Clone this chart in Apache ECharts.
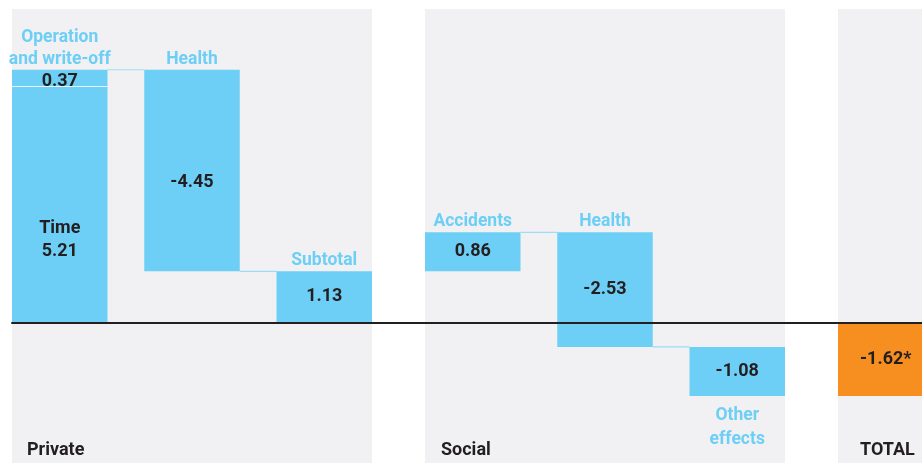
<!DOCTYPE html>
<html><head><meta charset="utf-8">
<script src="https://cdn.jsdelivr.net/npm/echarts@6/dist/echarts.min.js"></script>
<style>html,body{margin:0;padding:0;background:#fff}#c{width:922px;height:463px}</style>
</head><body><div id="c"></div>
<script>
// ---- data ----
const groupNames = ['Private', 'Social', 'TOTAL'];
const privateBaseLabel = 'Time';
const privateBaseValue = 5.21;
const privateCategories = ['Operation\nand write-off', 'Health', 'Subtotal'];
const privateValues = [0.37, -4.45, 1.13];
const privateKinds = ['delta', 'delta', 'total'];
const socialCategories = ['Accidents', 'Health', 'Other\neffects'];
const socialValues = [0.86, -2.53, -1.08];
const socialKinds = ['delta', 'delta', 'delta'];
const totalCategories = ['TOTAL'];
const totalValues = [-1.62];
const totalNote = '*';

// ---- style / layout ----
const BLUE = '#6dcff6', ORANGE = '#f68e20', PANEL = '#f1f1f3', DARK = '#231f20';
const BW = 95.5;
const FONT = 'bold 18px Roboto';
const CAT_FONT = 'bold 17.5px Roboto';
const Y_MIN = -3, Y_MAX = 7, PX = 45.3, ZERO_Y = 322.5;
const G_TOP = ZERO_Y - Y_MAX * PX, G_H = (Y_MAX - Y_MIN) * PX;
const valueShift = { 'Time': 36, 'Health-0': 12, 'Operation\nand write-off-0': 3 };

function fmt(v) { return v.toFixed(2); }

// build bars from data
function build(cats, vals, kinds, start, opts) {
  const data = [], meta = [];
  let run = start;
  cats.forEach((c, i) => {
    let low, high;
    if (kinds[i] === 'total') { low = 0; high = vals[i]; }
    else { low = run; high = run + vals[i]; }
    run = high;
    data.push([i, low, high]);
    meta.push({
      valueText: fmt(vals[i]) + (opts.note || ''),
      cat: opts.hideCat ? null : c,
      catPos: (opts.bottomLast && i === cats.length - 1) ? 'bottom' : 'top',
      color: opts.color || BLUE,
      next: i < cats.length - 1,
      level: high,
      dy: valueShift[c + '-' + opts.gid] || 0
    });
  });
  return { data, meta, end: run };
}

// private group with stacked base
const privData = [[0, 0, privateBaseValue]];
const privMeta = [{ valueText: privateBaseLabel + '\n' + fmt(privateBaseValue), cat: null, color: BLUE, next: false, dy: valueShift[privateBaseLabel] }];
const pb = build(privateCategories, privateValues, privateKinds, privateBaseValue, { gid: 0 });
pb.meta[0].sep = true;
privData.push(...pb.data); privMeta.push(...pb.meta);
const sb = build(socialCategories, socialValues, socialKinds, pb.end, { gid: 1, bottomLast: true });
const tb = build(totalCategories, totalValues, ['total'], 0, { gid: 2, color: ORANGE, hideCat: true, note: totalNote });

function makeRender(meta) {
  return function (params, api) {
    const m = meta[params.dataIndex];
    const idx = api.value(0), a = api.value(1), b = api.value(2);
    const pT = api.coord([idx, Math.max(a, b)]);
    const pB = api.coord([idx, Math.min(a, b)]);
    const cx = pT[0], top = pT[1], bot = pB[1];
    const children = [{
      type: 'rect', shape: { x: cx - BW / 2, y: top, width: BW, height: bot - top },
      style: { fill: m.color }
    }];
    if (m.sep) children.push({ type: 'line', shape: { x1: cx - BW / 2, y1: bot, x2: cx + BW / 2, y2: bot }, style: { stroke: '#ffffff', lineWidth: 1.2, opacity: 0.75 } });
    children.push({
      type: 'text', x: cx, y: (top + bot) / 2 + (m.dy || 0),
      style: { text: m.valueText, font: FONT, fill: DARK, align: 'center', verticalAlign: 'middle', lineHeight: 23 }
    });
    if (m.cat) {
      const isTop = m.catPos === 'top';
      children.push({
        type: 'text', x: cx, y: isTop ? top + 0.5 : bot + 8,
        style: { text: m.cat, font: CAT_FONT, fill: BLUE, align: 'center', verticalAlign: isTop ? 'bottom' : 'top', lineHeight: isTop ? 22 : 24 }
      });
    }
    if (m.next) {
      const n = api.coord([idx + 1, m.level]);
      children.push({ type: 'line', shape: { x1: cx + BW / 2, y1: n[1], x2: n[0] - BW / 2, y2: n[1] }, style: { stroke: '#9edbf5', lineWidth: 1.2 } });
    }
    return { type: 'group', children };
  };
}

const panels = [[12, 360], [425, 360], [838, 100]];
const labelX = [27, 441, 860];
const totalCenter = 838 + BW / 2;
const totalHalf = 922 - totalCenter;

const chart = echarts.init(document.getElementById('c'), null, { renderer: 'canvas' });
const hiddenY = (g) => ({ gridIndex: g, type: 'value', min: Y_MIN, max: Y_MAX, show: false });
const hiddenX = (g, cats, gap) => ({ gridIndex: g, type: 'category', data: cats, boundaryGap: gap, show: false });
chart.setOption({
  animation: false,
  grid: [
    { left: 12 + BW / 2, width: 360 - BW, top: G_TOP, height: G_H },
    { left: 425 + BW / 2, width: 360 - BW, top: G_TOP, height: G_H },
    { left: totalCenter - totalHalf, width: 2 * totalHalf, top: G_TOP, height: G_H },
    { left: 12, right: 0, top: G_TOP, height: G_H }
  ],
  xAxis: [
    hiddenX(0, privateCategories, false),
    hiddenX(1, socialCategories, false),
    hiddenX(2, totalCategories, true),
    { gridIndex: 3, type: 'value', min: 0, max: 1, z: 10,
      axisLine: { show: true, onZero: true, lineStyle: { color: DARK, width: 2 } },
      axisTick: { show: false }, axisLabel: { show: false }, splitLine: { show: false } }
  ],
  yAxis: [hiddenY(0), hiddenY(1), hiddenY(2), hiddenY(3)],
  graphic: panels.map((p, i) => ({
    type: 'rect', z: -10, silent: true,
    shape: { x: p[0], y: 9, width: p[1], height: 454 }, style: { fill: PANEL }
  })).concat(groupNames.map((g, i) => ({
    type: 'text', z: 5, x: labelX[i], y: 450,
    style: { text: g, font: FONT, fill: DARK, align: 'left', verticalAlign: 'middle' }
  }))),
  series: [
    { type: 'custom', xAxisIndex: 0, yAxisIndex: 0, data: privData, encode: { x: 0, y: [1, 2] }, renderItem: makeRender(privMeta) },
    { type: 'custom', xAxisIndex: 1, yAxisIndex: 1, data: sb.data, encode: { x: 0, y: [1, 2] }, renderItem: makeRender(sb.meta) },
    { type: 'custom', xAxisIndex: 2, yAxisIndex: 2, data: tb.data, encode: { x: 0, y: [1, 2] }, renderItem: makeRender(tb.meta) }
  ]
});
</script></body></html>
